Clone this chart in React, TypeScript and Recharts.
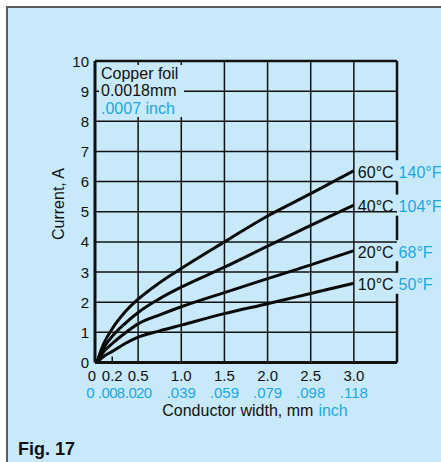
import { CartesianGrid, Line, LineChart, ReferenceLine, XAxis, YAxis } from "recharts"

const BG = "#c7e9fa"
const BLUE = "#1ba8e2"
const INK = "#111"
const FONT = "'Liberation Sans', Arial, Helvetica, sans-serif"

// conductor width (mm) and current (A)
const widthMm = [0.02, 0.1, 0.2, 0.35, 0.5, 0.75, 1.0, 1.5, 2.0, 2.5, 3.0]
const amps60 = [0, 0.62, 1.12, 1.68, 2.1, 2.65, 3.12, 4.0, 4.86, 5.6, 6.36]
const amps40 = [0, 0.48, 0.87, 1.3, 1.66, 2.12, 2.5, 3.16, 3.86, 4.55, 5.22]
const amps20 = [0, 0.35, 0.63, 0.98, 1.28, 1.58, 1.85, 2.32, 2.78, 3.24, 3.71]
const amps10 = [0, 0.2, 0.37, 0.63, 0.84, 1.05, 1.24, 1.62, 1.95, 2.29, 2.63]

const seriesKeys = ["t60", "t40", "t20", "t10"]
const tempC = ["60°C", "40°C", "20°C", "10°C"]
const tempF = ["140°F", "104°F", "68°F", "50°F"]

const mmTicks = [0, 0.2, 0.5, 1.0, 1.5, 2.0, 2.5, 3.0]
const mmLabels = ["0", "0.2", "0.5", "1.0", "1.5", "2.0", "2.5", "3.0"]
const inchLabels = ["0", ".008", ".020", ".039", ".059", ".079", ".098", ".118"]
const gridX = [0.5, 1.0, 1.5, 2.0, 2.5, 3.0]
const ampTicks = [0, 1, 2, 3, 4, 5, 6, 7, 8, 9, 10]

const rows = widthMm.map((w, i) => ({
  w,
  t60: amps60[i],
  t40: amps40[i],
  t20: amps20[i],
  t10: amps10[i],
}))

// right frame edge is broken where the end labels sit
const endValues = [amps10, amps20, amps40, amps60].map((a) => a[a.length - 1])
const GAP = 0.35
const frameBreaks = [0, ...endValues.flatMap((v) => [v - GAP, v + GAP]), 10]
const frameSegments = []
for (let i = 0; i < frameBreaks.length; i += 2) frameSegments.push([frameBreaks[i], frameBreaks[i + 1]])

function XTick({ x, y, payload }: any) {
  const i = mmTicks.indexOf(payload.value)
  const tight = payload.value === 0.2 || payload.value === 0.5
  return (
    <g fontFamily={FONT} fontSize={15}>
      {payload.value === 0.2 && (
        <line x1={x} x2={x} y1={y - 1} y2={y - 6} stroke={INK} strokeWidth={1.5} />
      )}
      <text x={payload.value === 0 ? x - 3 : x} y={y + 13} textAnchor="middle" dominantBaseline="central" fill={INK}>
        {mmLabels[i]}
      </text>
      <text
        x={payload.value === 0 ? x - 4.5 : payload.value === 0.2 ? x - 1 : x}
        y={y + 30}
        textAnchor="middle"
        dominantBaseline="central"
        fill={BLUE}
        letterSpacing={tight ? -0.7 : 0}
      >
        {inchLabels[i]}
      </text>
    </g>
  )
}

function YTick({ x, y, payload }: any) {
  return (
    <text x={x - 6} y={y} textAnchor="end" dominantBaseline="central" fontFamily={FONT} fontSize={15} fill={INK}>
      {payload.value}
    </text>
  )
}

function endLabel(s: number) {
  return (p: any) => {
    if (p.index !== widthMm.length - 1) return <g key={`d${s}-${p.index}`} />
    return (
      <text key={`d${s}-${p.index}`} x={p.cx + 4} y={p.cy + 1} dominantBaseline="central" fontFamily={FONT} fontSize={16}>
        <tspan fill={INK}>{tempC[s]}</tspan>
        <tspan fill={BLUE} dx={5}>
          {tempF[s]}
        </tspan>
      </text>
    )
  }
}

export default function App() {
  return (
    <div
      style={{
        position: "absolute",
        left: 0,
        top: 0,
        width: 441,
        height: 462,
        background: "#fff",
        overflow: "hidden",
        fontFamily: FONT,
      }}
    >
      <div
        style={{
          position: "absolute",
          left: 6,
          top: 6,
          right: -2,
          bottom: -2,
          background: BG,
          borderLeft: "2px solid #5b5b5b",
          borderTop: "2px solid #5b5b5b",
        }}
      />
      <div style={{ position: "absolute", left: 0, top: 0 }}>
        <LineChart width={441} height={462} data={rows} margin={{ top: 61, right: 44, bottom: 0, left: 0 }}>
          <CartesianGrid horizontalValues={ampTicks} verticalValues={gridX} stroke={INK} strokeWidth={1.5} />
          <CartesianGrid horizontalValues={[10]} vertical={false} stroke={INK} strokeWidth={2.5} />
          {frameSegments.map(([a, b]) => (
            <ReferenceLine
              key={a}
              segment={[
                { x: 3.5, y: a },
                { x: 3.5, y: b },
              ]}
              stroke={INK}
              strokeWidth={2.5}
            />
          ))}
          <XAxis
            type="number"
            dataKey="w"
            domain={[0, 3.5]}
            ticks={mmTicks}
            interval={0}
            tickSize={0}
            tickMargin={0}
            tick={<XTick />}
            height={99.5}
            axisLine={{ stroke: INK, strokeWidth: 3 }}
            label={{
              content: () => (
                <text x={255} y={410} textAnchor="middle" dominantBaseline="central" fontFamily={FONT} fontSize={16}>
                  <tspan fill={INK}>Conductor width, mm</tspan>
                  <tspan fill={BLUE} dx={5}>
                    inch
                  </tspan>
                </text>
              ),
            }}
          />
          <YAxis
            type="number"
            domain={[0, 10]}
            ticks={ampTicks}
            interval={0}
            tickSize={0}
            tickMargin={0}
            tick={<YTick />}
            width={95}
            axisLine={{ stroke: INK, strokeWidth: 3 }}
            label={{
              content: () => (
                <text
                  x={58}
                  y={204}
                  transform="rotate(-90, 58, 204)"
                  textAnchor="middle"
                  dominantBaseline="central"
                  fontFamily={FONT}
                  fontSize={16}
                  fill={INK}
                >
                  Current, A
                </text>
              ),
            }}
          />
          {seriesKeys.map((k, s) => (
            <Line
              key={k}
              type="monotone"
              dataKey={k}
              stroke="#0a0a0a"
              strokeWidth={3}
              dot={endLabel(s)}
              activeDot={false}
              isAnimationActive={false}
            />
          ))}
        </LineChart>
      </div>
      <div
        style={{
          position: "absolute",
          left: 99,
          top: 65,
          width: 85,
          height: 52,
          background: BG,
        }}
      />
      <div
        style={{
          position: "absolute",
          left: 101,
          top: 64.5,
          fontSize: 16,
          lineHeight: "17.5px",
          color: INK,
          whiteSpace: "nowrap",
        }}
      >
        <div>Copper foil</div>
        <div>0.0018mm</div>
        <div style={{ color: BLUE }}>.0007 inch</div>
      </div>
      <div
        style={{
          position: "absolute",
          left: 18,
          top: 440,
          fontSize: 18,
          lineHeight: "18px",
          fontWeight: "bold",
          color: INK,
        }}
      >
        Fig. 17
      </div>
    </div>
  )
}
